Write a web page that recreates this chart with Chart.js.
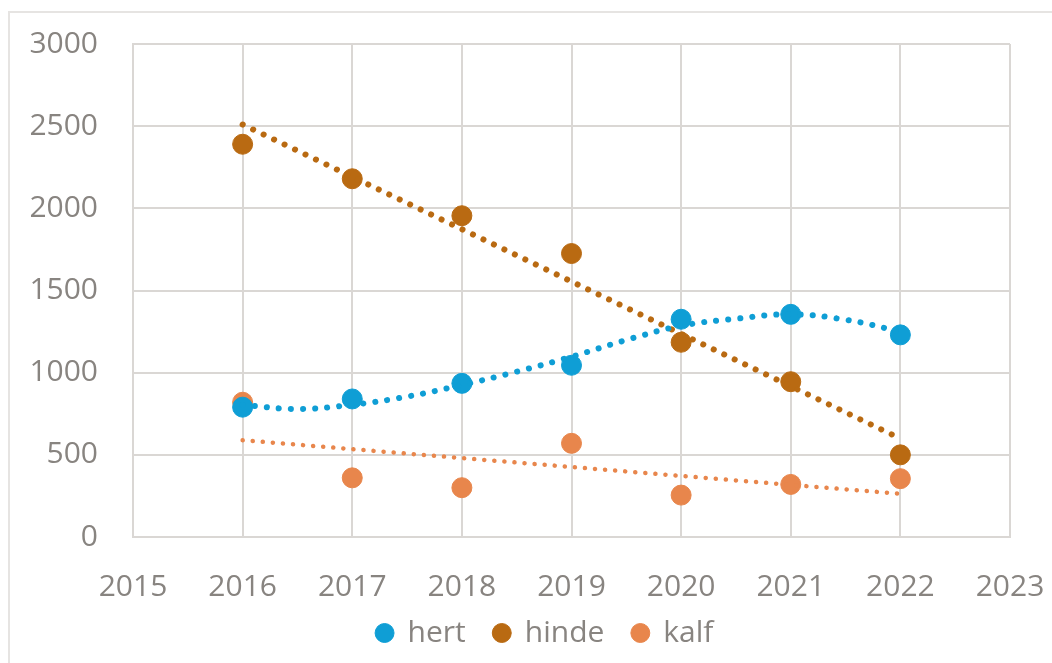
<!DOCTYPE html>
<html>
<head>
<meta charset="utf-8">
<script src="https://cdn.jsdelivr.net/npm/chart.js@4"></script>
<style>
  html, body { margin: 0; padding: 0; background: #fff; overflow: hidden; }
  #wrap { position: relative; width: 1052px; height: 663px; }
  #frame { position: absolute; left: 8px; top: 11px; width: 1100px; height: 700px; border: 2px solid #e6e4e2; }
  canvas { position: absolute; left: 0; top: 0; }
</style>
</head>
<body>
<div id="wrap">
  <div id="frame"></div>
  <canvas id="chart" width="1052" height="663"></canvas>
</div>
<script>
// --- data ---
const years = [2016, 2017, 2018, 2019, 2020, 2021, 2022];
const hert = [790, 840, 935, 1045, 1325, 1355, 1230];
const hinde = [2390, 2180, 1955, 1725, 1185, 945, 500];
const kalf = [820, 360, 300, 570, 255, 320, 355];

// trendlines as drawn in the picture
const hertTrendYears = [2016, 2016.5, 2017, 2017.5, 2018, 2018.5, 2019, 2019.5, 2020, 2020.5, 2021, 2021.5, 2022];
const hertTrend = [803, 779, 805, 854, 925, 1006, 1097, 1199, 1285, 1328, 1355, 1322, 1250];
const lineYears = [2016, 2022];
const hindeTrend = [2510, 599];
const kalfTrend = [589, 263];

const textColor = '#888480';
const gridColor = '#dad7d4';
const font = { family: "'Open Sans', 'Noto Sans', sans-serif", size: 30 };

function points(xs, ys) {
  return xs.map((x, i) => ({ x: x, y: ys[i] }));
}

function markers(label, data, color) {
  return {
    label: label,
    data: points(years, data),
    backgroundColor: color,
    borderColor: color,
    pointRadius: 10,
    pointHoverRadius: 10,
    showLine: false
  };
}

function trend(xs, ys, color, width, gap, tension) {
  return {
    label: 'trend',
    data: points(xs, ys),
    borderColor: color,
    borderWidth: width,
    borderDash: [0.1, gap],
    borderCapStyle: 'round',
    pointRadius: 0,
    showLine: true,
    tension: tension,
    order: -1
  };
}

// no extra room for the outer tick labels, the plot area is fixed
function noPadding(scale) {
  scale.paddingTop = 0;
  scale.paddingBottom = 0;
  scale.paddingLeft = 0;
  scale.paddingRight = 0;
}

// nudge the legend to where the original has it
const legendShift = {
  id: 'legendShift',
  afterLayout(chart) {
    const l = chart.legend;
    l.left += 40; l.right += 40;
    l.top -= 18; l.bottom -= 18;
  }
};

const ctx = document.getElementById('chart').getContext('2d');
new Chart(ctx, {
  type: 'scatter',
  data: {
    datasets: [
      markers('hert', hert, '#0f9ed5'),
      markers('hinde', hinde, '#b96a12'),
      markers('kalf', kalf, '#e8864c'),
      trend(hertTrendYears, hertTrend, '#0f9ed5', 6, 12, 0.4),
      trend(lineYears, hindeTrend, '#b96a12', 6, 11.5, 0),
      trend(lineYears, kalfTrend, '#e8864c', 4.5, 10, 0)
    ]
  },
  plugins: [legendShift],
  options: {
    responsive: false,
    animation: false,
    layout: { autoPadding: false, padding: { top: 44, right: 42, left: 0, bottom: -13 } },
    plugins: {
      tooltip: { enabled: false },
      legend: {
        position: 'bottom',
        labels: {
          filter: item => item.text !== 'trend',
          usePointStyle: true,
          pointStyle: 'circle',
          boxHeight: 13.4,
          boxWidth: 16,
          padding: 28,
          color: textColor,
          font: font
        }
      }
    },
    scales: {
      x: {
        type: 'linear',
        min: 2015,
        max: 2023,
        afterFit: scale => { scale.height = 71; noPadding(scale); },
        ticks: { stepSize: 1, padding: 32, color: textColor, font: font, callback: v => String(v) },
        grid: { color: gridColor, lineWidth: 2, drawTicks: false },
        border: { color: gridColor, width: 2 }
      },
      y: {
        min: 0,
        max: 3000,
        afterFit: scale => { scale.width = 133; noPadding(scale); },
        ticks: { stepSize: 500, padding: 35, color: textColor, font: font, callback: v => String(v) },
        grid: { color: gridColor, lineWidth: 2, drawTicks: false },
        border: { color: gridColor, width: 2 }
      }
    }
  }
});
</script>
</body>
</html>
